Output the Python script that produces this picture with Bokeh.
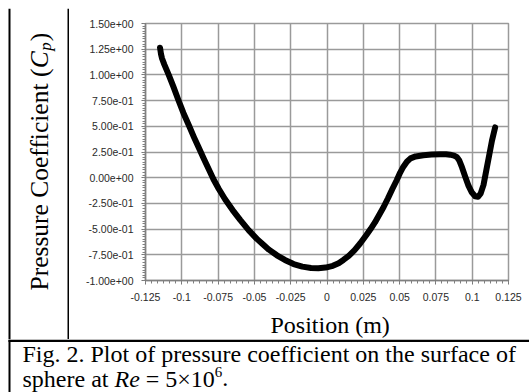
import numpy as np
from math import pi
from bokeh.plotting import figure
from bokeh.layouts import column, row
from bokeh.models import Range1d, FixedTicker, Label
from bokeh.embed import file_html
from bokeh.resources import INLINE

# ---------------- data ----------------
position = [-0.1150, -0.1143, -0.1136, -0.1120, -0.1090, -0.1058, -0.1025, -0.0989,
            -0.0950, -0.0915, -0.0886, -0.0850, -0.0815, -0.0782, -0.0745, -0.0702,
            -0.0650, -0.0598, -0.0540, -0.0483, -0.0440, -0.0400, -0.0345, -0.0290,
            -0.0230, -0.0170, -0.0110, -0.0060, -0.0010, 0.0040, 0.0080, 0.0113,
            0.0150, 0.0190, 0.0228, 0.0270, 0.0300, 0.0330, 0.0360, 0.0390,
            0.0420, 0.0450, 0.0480, 0.0504, 0.0525, 0.0550, 0.0575, 0.0610,
            0.0664, 0.0720, 0.0779, 0.0820, 0.0848, 0.0875, 0.0895, 0.0910,
            0.0930, 0.0952, 0.0975, 0.0998, 0.1020, 0.1040, 0.1058, 0.1078,
            0.1101, 0.1120, 0.1136, 0.1158]
cp = [1.265, 1.20, 1.16, 1.10, 1.00, 0.885, 0.76, 0.63,
      0.505, 0.39, 0.30, 0.19, 0.085, -0.015, -0.11, -0.21,
      -0.315, -0.41, -0.51, -0.595, -0.65, -0.70, -0.755, -0.80,
      -0.84, -0.865, -0.878, -0.88, -0.874, -0.857, -0.832, -0.80,
      -0.76, -0.705, -0.64, -0.56, -0.50, -0.435, -0.36, -0.285,
      -0.20, -0.11, -0.025, 0.05, 0.105, 0.155, 0.188, 0.207,
      0.219, 0.225, 0.229, 0.229, 0.224, 0.215, 0.20, 0.17,
      0.10, 0.01, -0.08, -0.145, -0.18, -0.185, -0.155, -0.07,
      0.10, 0.24, 0.36, 0.49]

x_ticks = [-0.125, -0.1, -0.075, -0.05, -0.025, 0.0, 0.025, 0.05, 0.075, 0.1, 0.125]
x_tick_labels = ["-0.125", "-0.1", "-0.075", "-0.05", "-0.025", "0",
                 "0.025", "0.05", "0.075", "0.1", "0.125"]
y_ticks = [-1.0, -0.75, -0.5, -0.25, 0.0, 0.25, 0.5, 0.75, 1.0, 1.25, 1.5]
y_tick_labels = ["-1.00e+00", "-7.50e-01", "-5.00e-01", "-2.50e-01", "0.00e+00",
                 "2.50e-01", "5.00e-01", "7.50e-01", "1.00e+00", "1.25e+00", "1.50e+00"]

x_label = "Position (m)"
y_label_parts = ["Pressure Coefficient (", "C", "p", ")"]
caption_line1 = "Fig. 2. Plot of pressure coefficient on the surface of"
caption_line2_parts = ["sphere at", "Re", "= 5×10", "6", "."]

# ---------------- helpers ----------------
TIMES = {'P': 556, 'r': 333, 'e': 444, 's': 389, 'u': 500, ' ': 250, 'C': 667, 'o': 500,
         'f': 333, 'i': 278, 'c': 444, 'n': 500, 't': 278, '(': 333, ')': 333, 'p': 500,
         'h': 500, 'a': 444, 'R': 611, '=': 564, '5': 500, '×': 564, '1': 500, '0': 500,
         '6': 500, '.': 250}


def tw(s, size):
    return sum(TIMES.get(ch, 500) for ch in s) * size / 1000.0


SERIF = "Liberation Serif"
FS = 24
BASE_SHIFT = 7.0 / 24.0   # observed offset of the rendered baseline, per px of font size


def panel(x0, x1, y0, y1):
    """A figure whose frame is the whole canvas; data units = page pixels (y negated)."""
    return figure(width=int(x1 - x0), height=int(y1 - y0), output_backend="svg",
                  toolbar_location=None, x_axis_type=None, y_axis_type=None,
                  x_range=Range1d(x0, x1), y_range=Range1d(-y1, -y0), min_border=0,
                  background_fill_color="white", border_fill_color="white",
                  outline_line_color=None)


def rule(f, x0, x1, y0, y1):
    f.quad(left=[x0], right=[x1], top=[-y0], bottom=[-y1],
           fill_color="black", line_color=None)


def put(f, text, px, py, size=FS, style="normal", align="left", angle=0.0):
    d = BASE_SHIFT * size
    if angle:
        px -= d
    else:
        py -= d
    f.add_layout(Label(x=px, y=-py, text=text, text_font=SERIF,
                       text_font_size=f"{size}px", text_font_style=style,
                       text_align=align, text_baseline="alphabetic",
                       text_color="black", angle=angle))


# ---------------- top strip (page y 0..8) ----------------
top = panel(0, 529, 0, 8)
rule(top, 8, 529, 6, 8)
rule(top, 8, 10, 6, 8)

# ---------------- y label column (page x 0..69, y 8..339) ----------------
yl = panel(0, 69, 8, 339)
rule(yl, 8, 10, 8, 339)
rule(yl, 67, 69, 8, 339)
YFS = 25.5
bx = 46
y0 = 290
put(yl, y_label_parts[0], bx, y0, size=YFS, angle=pi / 2)
yc = y0 - tw(y_label_parts[0], YFS)
put(yl, y_label_parts[1], bx, yc, size=YFS, style="italic", angle=pi / 2)
yc -= tw("C", YFS) + 0.5
sub = 17
put(yl, y_label_parts[2], bx + 4, yc, size=sub, style="italic", angle=pi / 2)
yc -= tw("p", sub) + 1
put(yl, y_label_parts[3], bx, yc, size=YFS, angle=pi / 2)

# ---------------- main chart (page x 69..529, y 8..305) ----------------
p = figure(width=460, height=297, output_backend="svg", toolbar_location=None,
           x_range=Range1d(-0.125, 0.125), y_range=Range1d(-1.0, 1.5),
           min_border_left=76, min_border_right=21, min_border_top=15, min_border_bottom=25,
           background_fill_color="white", border_fill_color="white")
p.outline_line_color = "#9a9a9a"
p.outline_line_width = 1.5

x_minor = list(np.round(np.arange(-0.125, 0.12501, 0.025 / 6), 6))
y_minor = list(np.round(np.arange(-1.0, 1.50001, 0.025), 6))
p.xaxis.ticker = FixedTicker(ticks=x_ticks, minor_ticks=x_minor)
p.yaxis.ticker = FixedTicker(ticks=y_ticks, minor_ticks=y_minor)
p.xaxis.major_label_overrides = {t: l for t, l in zip(x_ticks, x_tick_labels)}
p.yaxis.major_label_overrides = {t: l for t, l in zip(y_ticks, y_tick_labels)}

for ax in (p.xaxis, p.yaxis):
    ax.axis_line_color = "#808080"
    ax.axis_line_width = 1.5
    ax.major_tick_line_color = "#707070"
    ax.minor_tick_line_color = "#808080"
    ax.major_tick_out = 4
    ax.major_tick_in = 0
    ax.minor_tick_out = 3
    ax.minor_tick_in = 0
    ax.major_label_text_font = "Liberation Sans"
    ax.major_label_text_font_size = "10.5px"
    ax.major_label_text_color = "#2a2a2a"
    ax.major_label_standoff = 8
p.yaxis.major_label_orientation = "horizontal"

p.xgrid.ticker = FixedTicker(ticks=x_ticks)
p.ygrid.ticker = FixedTicker(ticks=y_ticks)
p.grid.grid_line_color = "#9a9a9a"
p.grid.grid_line_width = 1.5

p.line(position, cp, line_width=6, line_color="black", line_cap="round", line_join="round")

# ---------------- x label strip (page x 69..529, y 305..339) ----------------
xl = panel(69, 529, 305, 339)
put(xl, x_label, 303, 331, align="center")

# ---------------- caption (page x 0..529, y 339..392) ----------------
cap = panel(0, 529, 339, 392)
rule(cap, 8, 529, 339, 341.5)
rule(cap, 8, 10, 339, 392)
cx = 22
put(cap, caption_line1, cx, 360)
x = cx
put(cap, caption_line2_parts[0], x, 385)
x += tw("sphere at ", FS)
put(cap, caption_line2_parts[1], x, 385, style="italic")
x += tw("Re ", FS)
put(cap, caption_line2_parts[2], x, 385)
x += tw("= 5×10", FS)
sup = 15
put(cap, caption_line2_parts[3], x, 376, size=sup)
x += tw("6", sup)
put(cap, caption_line2_parts[4], x, 385)

layout = column(top, row(yl, column(p, xl, spacing=0), spacing=0), cap, spacing=0)

open("out.html", "w").write(file_html(layout, INLINE))
